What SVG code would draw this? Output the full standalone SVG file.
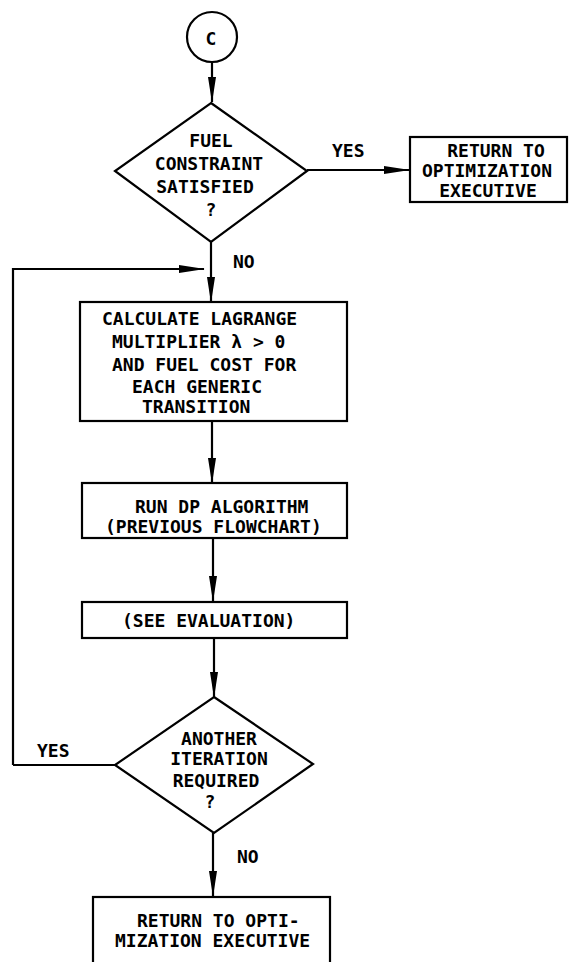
<svg xmlns="http://www.w3.org/2000/svg" width="572" height="962" viewBox="0 0 572 962">
<defs>
<style>
.shape{fill:#fff;stroke:#000;stroke-width:2.2}
.conn{fill:none;stroke:#000;stroke-width:2.2}
text{font-family:"DejaVu Sans Mono","Liberation Mono",monospace;font-size:18px;font-weight:bold;fill:#000}
.c{text-anchor:middle}
</style>
<marker id="ah" markerUnits="userSpaceOnUse" markerWidth="26" markerHeight="10" viewBox="0 0 26 10" refX="25" refY="5" orient="auto">
<path d="M0,1 L26,5 L0,9 Z" fill="#000"/>
</marker>
</defs>
<rect width="572" height="962" fill="#fff"/>
<g id="connectors">
<path class="conn" d="M212,62 V102" marker-end="url(#ah)"/>
<path class="conn" d="M307,170 H409" marker-end="url(#ah)"/>
<path class="conn" d="M211,242 V302" marker-end="url(#ah)"/>
<path class="conn" d="M13,765 V269 H204" marker-end="url(#ah)"/>
<path class="conn" d="M212,421 V483" marker-end="url(#ah)"/>
<path class="conn" d="M213,538 V601" marker-end="url(#ah)"/>
<path class="conn" d="M214,638 V697" marker-end="url(#ah)"/>
<path class="conn" d="M115,765 H13"/>
<path class="conn" d="M213,833 V896" marker-end="url(#ah)"/>
<text x="332" y="157">YES</text>
<text x="233" y="268">NO</text>
<text x="37" y="757">YES</text>
<text x="237" y="863">NO</text>
</g>
<g id="start">
<circle class="shape" cx="212" cy="37" r="25"/>
<text class="c" x="211" y="45">C</text>
</g>
<g id="fuel-check">
<polygon class="shape" points="211,103 307,171 211,242 115,171"/>
<text class="c" x="211" y="147">FUEL</text>
<text class="c" x="209" y="170">CONSTRAINT</text>
<text class="c" x="205" y="193">SATISFIED</text>
<text class="c" x="211" y="216">?</text>
</g>
<g id="return-1">
<rect class="shape" x="410" y="137" width="157" height="65"/>
<text class="c" x="496" y="157">RETURN TO</text>
<text class="c" x="487" y="177">OPTIMIZATION</text>
<text class="c" x="488" y="197">EXECUTIVE</text>
</g>
<g id="calculate">
<rect class="shape" x="80" y="302" width="267" height="119"/>
<text x="102" y="325">CALCULATE LAGRANGE</text>
<text x="112" y="348">MULTIPLIER λ &gt; 0</text>
<text x="112" y="371">AND FUEL COST FOR</text>
<text x="132" y="393">EACH GENERIC</text>
<text x="142" y="413">TRANSITION</text>
</g>
<g id="run-dp">
<rect class="shape" x="82" y="483" width="265" height="55"/>
<text x="135" y="513">RUN DP ALGORITHM</text>
<text x="105" y="533">(PREVIOUS FLOWCHART)</text>
</g>
<g id="evaluation">
<rect class="shape" x="82" y="602" width="265" height="36"/>
<text x="122" y="627">(SEE EVALUATION)</text>
</g>
<g id="iteration-check">
<polygon class="shape" points="214,697 313,764 214,833 115,765"/>
<text class="c" x="219" y="745">ANOTHER</text>
<text class="c" x="219" y="765">ITERATION</text>
<text class="c" x="216" y="787">REQUIRED</text>
<text class="c" x="210" y="808">?</text>
</g>
<g id="return-2">
<rect class="shape" x="93" y="897" width="237" height="80"/>
<text x="137" y="927">RETURN TO OPTI-</text>
<text x="115" y="947">MIZATION EXECUTIVE</text>
</g>
</svg>
